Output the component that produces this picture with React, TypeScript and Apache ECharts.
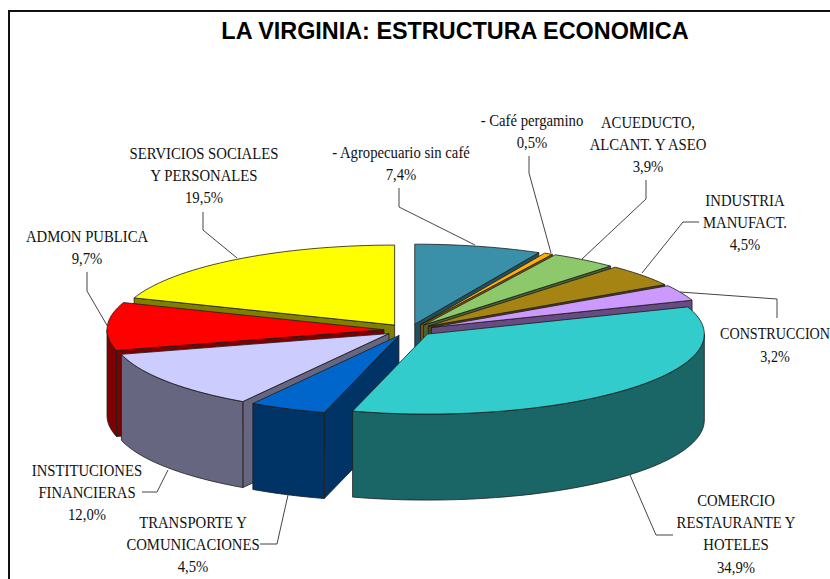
import React, { useEffect, useRef } from "react";
import * as echarts from "echarts";

const TITLE = "LA VIRGINIA: ESTRUCTURA ECONOMICA";
const categories = [
  ["- Agropecuario sin café"],
  ["- Café pergamino"],
  ["ACUEDUCTO,", "ALCANT. Y ASEO"],
  ["INDUSTRIA", "MANUFACT."],
  ["CONSTRUCCION"],
  ["COMERCIO", "RESTAURANTE Y", "HOTELES"],
  ["TRANSPORTE Y", "COMUNICACIONES"],
  ["INSTITUCIONES", "FINANCIERAS"],
  ["ADMON PUBLICA"],
  ["SERVICIOS SOCIALES", "Y PERSONALES"],
];
const values = [7.4, 0.5, 3.9, 4.5, 3.2, 34.9, 4.5, 12.0, 9.7, 19.5];
const topColors = ["#3A90A8", "#FFB000", "#8DC86A", "#A68414", "#CC99FF", "#33CCCC", "#0066CC", "#CCCCFF", "#FF0000", "#FFFF00"];
const wallColors = ["#1F5060", "#805800", "#476435", "#53420A", "#664C80", "#1A6666", "#003366", "#666680", "#800000", "#808000"];
const paintOrder = [0, 1, 2, 3, 4, 9, 8, 7, 6, 5];

const labelAnchors = [
  [401, 152], [532, 120], [648, 122], [745, 200], [775, 334],
  [736, 500], [193, 522], [87, 470], [87, 236], [204, 153],
];
const labelScales = [0.92, 0.92, 0.92, 0.92, 0.885, 0.92, 0.92, 0.92, 0.92, 0.92];
const leaderPaths = [
  [[399, 188], [399, 207], [475, 245]],
  [[529, 156], [529, 173], [551, 253]],
  [[646, 180], [646, 199], [582, 259]],
  [[699, 222], [683, 222], [642, 273]],
  [[777, 318], [777, 299], [680, 292]],
  [[673, 535], [656, 535], [630, 475]],
  [[260, 544], [277, 544], [288, 495]],
  [[142, 492], [157, 492], [168, 470]],
  [[87, 272], [87, 291], [108, 327]],
  [[203, 212], [203, 230], [237, 258]],
];

const CX = 409, CY = 330, RX = 277, RY = 80, DEPTH = 86, EX = 25, EY = 6;
const LINE_H = 22.3;
const RAD = Math.PI / 180;
const EDGE = "#1c1c1c";

const total = values.reduce((a, b) => a + b, 0);
const pct = (v: number) => v.toFixed(1).replace(".", ",") + "%";

function renderSlice(params: any, api: any) {
  const i = params.dataIndex;
  const before = values.slice(0, i).reduce((a, b) => a + b, 0);
  const a0 = (before / total) * 360;
  const a1 = ((before + api.value(0)) / total) * 360;
  const mid = ((a0 + a1) / 2) * RAD;
  const tx = CX + EX * Math.sin(mid);
  const ty = CY - EY * Math.cos(mid);
  const at = (deg: number) => [tx + RX * Math.sin(deg * RAD), ty - RY * Math.cos(deg * RAD)];
  const arc = (from: number, to: number) => {
    const n = Math.max(2, Math.ceil((to - from) / 2));
    const pts = [];
    for (let k = 0; k <= n; k++) pts.push(at(from + ((to - from) * k) / n));
    return pts;
  };
  const down = (p: number[]) => [p[0], p[1] + DEPTH];
  const z = paintOrder.indexOf(i) * 10;
  const poly = (points: number[][], fill: string, z2: number) => ({
    type: "polygon",
    shape: { points },
    z2: z + z2,
    style: { fill, stroke: EDGE, lineWidth: 0.8, lineJoin: "round" },
  });
  const children: any[] = [];
  const tip = [tx, ty];
  if (a0 > 180) children.push(poly([tip, at(a0), down(at(a0)), down(tip)], wallColors[i], 1));
  if (a1 < 180) children.push(poly([tip, at(a1), down(at(a1)), down(tip)], wallColors[i], 1));
  const w0 = Math.max(a0, 90), w1 = Math.min(a1, 270);
  if (w1 > w0) {
    const top = arc(w0, w1);
    children.push(poly([...top, ...top.slice().reverse().map(down)], wallColors[i], 2));
  }
  children.push(poly([tip, ...arc(a0, a1)], topColors[i], 3));
  return { type: "group", children };
}

export default function App() {
  const ref = useRef<HTMLDivElement>(null);
  useEffect(() => {
    const chart = echarts.init(ref.current!, null, { renderer: "svg" });
    const graphic: any[] = [
      { type: "rect", shape: { x: 9, y: 11, width: 840, height: 600 }, style: { fill: "#fff", stroke: "#111", lineWidth: 2 }, z: -1, silent: true },
      {
        type: "text", x: 455, y: 31, scaleX: 0.975, z: 10,
        style: { text: TITLE, fill: "#000", font: "bold 24px 'Liberation Sans'", align: "center", verticalAlign: "middle" },
      },
    ];
    leaderPaths.forEach((points) => {
      graphic.push({ type: "polyline", z: 10, shape: { points }, style: { fill: "none", stroke: "#444", lineWidth: 1 } });
    });
    categories.forEach((lines, i) => {
      [...lines, pct(values[i])].forEach((text, k) => {
        graphic.push({
          type: "text", z: 10,
          x: labelAnchors[i][0], y: labelAnchors[i][1] + k * LINE_H, scaleX: labelScales[i],
          style: { text, fill: "#111", font: "16px 'Liberation Serif'", align: "center", verticalAlign: "middle" },
        });
      });
    });
    chart.setOption({
      animation: false,
      backgroundColor: "#fff",
      graphic,
      series: [{
        type: "custom",
        coordinateSystem: "none",
        silent: true,
        z: 5,
        renderItem: renderSlice,
        data: values.map((v, i) => ({ name: categories[i].join(" "), value: [v] })),
      }],
    });
    return () => chart.dispose();
  }, []);
  return <div ref={ref} style={{ position: "fixed", left: 0, top: 0, width: 830, height: 579 }} />;
}
